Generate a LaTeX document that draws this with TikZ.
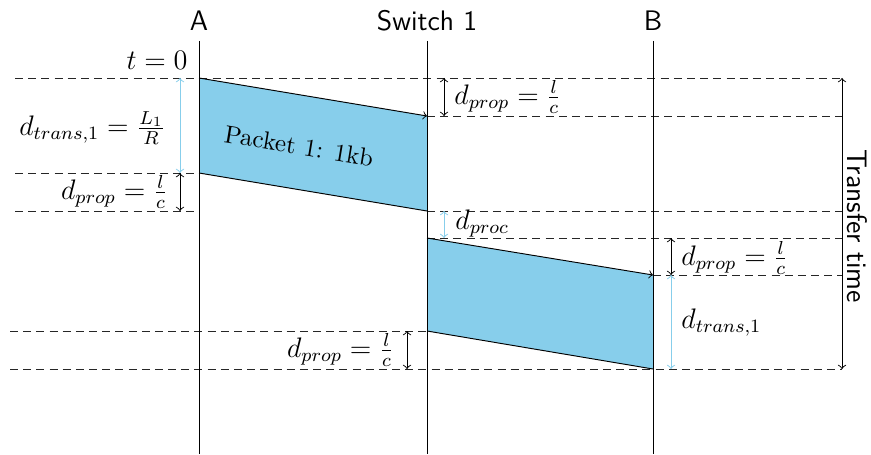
\documentclass[tikz,border=0pt,12pt]{standalone}
\usetikzlibrary{arrows}
\definecolor{pktblue}{RGB}{135,206,235}
\begin{document}
\begin{tikzpicture}[x=0.425pt,y=-0.425pt,
  guide/.style={dash pattern=on 3.4pt off 2.2pt, draw=black!85},
  pkt/.style={fill=pktblue, draw=none},
  edge/.style={draw=black},
  dimb/.style={<->, draw=black},
  dimc/.style={<->, draw=pktblue},
  head/.style={font=\sffamily, anchor=base, inner sep=0pt},
  lbl/.style={inner sep=0pt}]
\useasboundingbox (0,0) rectangle (871,454);
% packet corners
\coordinate (A0) at (199,78);
\coordinate (A1) at (199,173);
\coordinate (S0) at (427,116);
\coordinate (S1) at (427,211);
\coordinate (S2) at (427,238);
\coordinate (S3) at (427,331);
\coordinate (B0) at (653,275);
\coordinate (B1) at (653,369);
% packets
\fill[pkt] (A0) -- (S0) -- (S1) -- (A1) -- cycle;
\fill[pkt] (S2) -- (B0) -- (B1) -- (S3) -- cycle;
% guides
\draw[guide] (15,78) -- (842,78);
\draw[guide] (427,116) -- (842,116);
\draw[guide] (15,173) -- (199,173);
\draw[guide] (15,211) -- (199,211);
\draw[guide] (427,211) -- (842,211);
\draw[guide] (427,238) -- (842,238);
\draw[guide] (653,275) -- (842,275);
\draw[guide] (10,331) -- (427,331);
\draw[guide] (10,369) -- (842,369);
% headers and time lines
\node[head] (hA) at (199,31) {A};
\node[head] (hS) at (427,31) {Switch 1};
\node[head] (hB) at (653,31) {B};
\coordinate (At) at (199,41); \coordinate (Ab) at (199,454);
\coordinate (St) at (427,41); \coordinate (Sb) at (427,454);
\coordinate (Bt) at (653,41); \coordinate (Bb) at (653,454);
\draw (At) -- (Ab);
\draw (St) -- (Sb);
\draw (Bt) -- (Bb);
% packet edges
\draw[edge,->] (A0) -- (S0);
\draw[edge] (A1) -- (S1);
\draw[edge,->] (S2) -- (B0);
\draw[edge] (S3) -- (B1);
% dimension arrows
\draw[dimc] (180,78) -- (180,173);
\draw[dimb] (180,173) -- (180,211);
\draw[dimb] (444,78) -- (444,116);
\draw[dimc] (444,211) -- (444,238);
\draw[dimb] (671,238) -- (671,275);
\draw[dimc] (671,275) -- (671,369);
\draw[dimb] (407,331) -- (407,369);
\draw[dimb] (842,78) -- (842,369);
% labels
\node[lbl, anchor=base east] (t0) at (188,70) {$t=0$};
\node[lbl, anchor=east] (ltr) at (166,128) {$d_{trans,1}=\frac{L_1}{R}$};
\node[lbl, anchor=east] (lpr1) at (168,192) {$d_{prop}=\frac{l}{c}$};
\node[lbl, anchor=west] (lpr2) at (454,97) {$d_{prop}=\frac{l}{c}$};
\node[lbl, anchor=base west] (lpc) at (455,229) {$d_{proc}$};
\node[lbl, anchor=west] (lpr3) at (681,258) {$d_{prop}=\frac{l}{c}$};
\node[lbl, anchor=base west] (ltr2) at (681,328) {$d_{trans,1}$};
\node[lbl, anchor=east] (lpr4) at (394,350) {$d_{prop}=\frac{l}{c}$};
\node[lbl, rotate=-9.46, font=\fontsize{10.6pt}{13pt}\selectfont] (pk) at (299,146) {Packet 1: 1kb};
\node[lbl, font=\sffamily, rotate=-90] (tt) at (857,226) {Transfer time};
\end{tikzpicture}
\end{document}
